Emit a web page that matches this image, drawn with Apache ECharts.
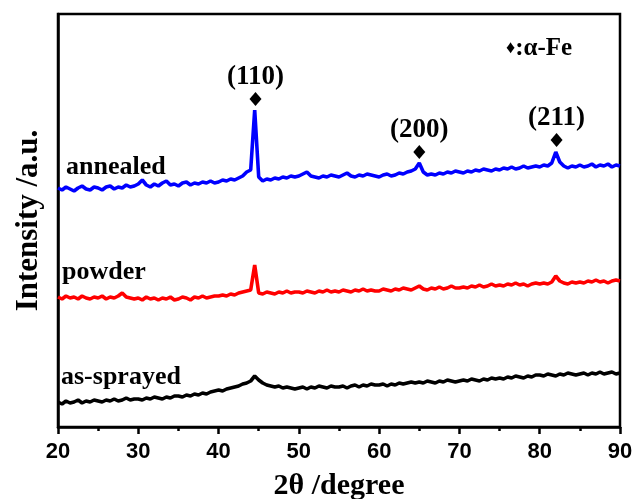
<!DOCTYPE html>
<html>
<head>
<meta charset="utf-8">
<script src="https://cdn.jsdelivr.net/npm/echarts@6/dist/echarts.min.js"></script>
<style>
  html, body { margin: 0; padding: 0; background: #fff; }
  #chart { width: 633px; height: 499px; }
</style>
</head>
<body>
<div id="chart"></div>
<script>
// 2theta (degree)
var twoTheta = [
  20, 20.5, 21, 21.5, 22, 22.5, 23, 23.5, 24, 24.5,
  25, 25.5, 26, 26.5, 27, 27.5, 28, 28.5, 29, 29.5,
  30, 30.5, 31, 31.5, 32, 32.5, 33, 33.5, 34, 34.5,
  35, 35.5, 36, 36.5, 37, 37.5, 38, 38.5, 39, 39.5,
  40, 40.5, 41, 41.5, 42, 42.5, 43, 43.5, 44, 44.5,
  45, 45.5, 46, 46.5, 47, 47.5, 48, 48.5, 49, 49.5,
  50, 50.5, 51, 51.5, 52, 52.5, 53, 53.5, 54, 54.5,
  55, 55.5, 56, 56.5, 57, 57.5, 58, 58.5, 59, 59.5,
  60, 60.5, 61, 61.5, 62, 62.5, 63, 63.5, 64, 64.5,
  65, 65.5, 66, 66.5, 67, 67.5, 68, 68.5, 69, 69.5,
  70, 70.5, 71, 71.5, 72, 72.5, 73, 73.5, 74, 74.5,
  75, 75.5, 76, 76.5, 77, 77.5, 78, 78.5, 79, 79.5,
  80, 80.5, 81, 81.5, 82, 82.5, 83, 83.5, 84, 84.5,
  85, 85.5, 86, 86.5, 87, 87.5, 88, 88.5, 89, 89.5,
  90
];

// intensity, arbitrary units (curves already offset)
var annealed = [
  239, 237, 240, 238, 236, 239, 241, 238, 237, 240,
  239, 237, 240, 241, 238, 240, 239, 242, 240, 241,
  243, 247, 242, 240, 243, 241, 244, 246, 242, 243,
  241, 244, 245, 242, 244, 243, 245, 244, 246, 244,
  245, 247, 246, 248, 247, 249, 251, 255, 257, 317,
  250, 246, 248, 247, 249, 248, 250, 249, 251, 250,
  251, 253, 255, 251, 250, 249, 251, 250, 252, 251,
  250, 252, 254, 251, 250, 252, 251, 253, 252, 251,
  250, 252, 253, 251, 252, 254, 253, 255, 256, 258,
  264, 255, 252, 253, 252, 254, 253, 255, 254, 256,
  255, 254, 256, 255, 257, 256, 258, 257, 256, 258,
  257, 259, 258, 260, 258, 259, 261, 259, 260, 261,
  260, 262, 261, 264, 275, 265, 261, 259, 261, 260,
  262, 260, 261, 263, 260, 262, 261, 263, 260, 262,
  261
];

var powder = [
  130, 128, 131, 129, 130, 128, 131, 129, 128, 130,
  129, 131, 128, 130, 129, 131, 134, 130, 129, 128,
  129, 127, 130, 128, 129, 127, 129, 128, 130, 127,
  128, 130, 129, 127, 130, 129, 131, 129, 130, 131,
  131, 132, 131, 133, 132, 134, 135, 136, 137, 162,
  134, 133, 135, 134, 133, 135, 134, 136, 134, 135,
  135, 134, 136, 135, 134, 136, 135, 137, 135, 136,
  135, 137, 136, 135, 137, 136, 138, 136, 137, 136,
  136, 138, 137, 136, 138, 137, 139, 138, 137, 139,
  141, 138, 137, 139, 138, 140, 138, 139, 141, 139,
  139, 140, 139, 141, 140, 142, 140, 141, 143, 141,
  142, 141, 143, 142, 144, 142, 143, 141, 143, 144,
  143, 144, 143, 145, 151, 146, 144, 143, 145, 144,
  145, 144, 146, 145, 147, 145, 146, 144, 146, 147,
  146
];

var asSprayed = [
  25, 23, 26, 24, 25, 27, 24, 26, 25, 27,
  26, 25, 27, 26, 28, 26, 27, 29, 27, 28,
  28, 27, 29, 28, 30, 29, 28, 30, 29, 31,
  31, 30, 32, 31, 33, 32, 34, 33, 35, 36,
  37, 36, 38, 39, 40, 41, 43, 44, 46, 51,
  47, 44, 42, 41, 40, 41, 39, 40, 39, 38,
  39, 40, 38, 40, 39, 41, 40, 39, 41, 40,
  40, 41, 39, 41, 42, 40, 42, 41, 43, 42,
  42, 43, 41, 43, 42, 44, 43, 44, 45, 44,
  45, 44, 46, 45, 44, 46, 45, 47, 46, 45,
  46, 47, 46, 48, 47, 46, 48, 47, 49, 48,
  49, 48, 50, 49, 51, 50, 49, 51, 50, 52,
  52, 51, 53, 52, 51, 53, 52, 54, 53, 52,
  53, 54, 52, 54, 53, 55, 53, 54, 55, 53,
  54
];

// alpha-Fe reflections
var peakX = [44.6, 65.0, 82.1];
var peakY = [328, 275, 287];
var peakNames = ['(110)', '(200)', '(211)'];

var xTicks = [20, 30, 40, 50, 60, 70, 80, 90];

function pairs(ys) {
  var out = [];
  for (var i = 0; i < twoTheta.length; i++) out.push([twoTheta[i], ys[i]]);
  return out;
}

var serif = '"Liberation Serif", "Times New Roman", serif';
var sans = '"Liberation Sans", Arial, sans-serif';

var chart = echarts.init(document.getElementById('chart'));

var peaks = [];
for (var i = 0; i < peakX.length; i++) {
  peaks.push({ value: [peakX[i], peakY[i]], name: peakNames[i] });
}

function lineSeries(name, ys, color) {
  return {
    name: name,
    type: 'line',
    data: pairs(ys),
    showSymbol: false,
    silent: true,
    lineStyle: { color: color, width: 3.6 },
    animation: false
  };
}

chart.setOption({
  backgroundColor: '#fff',
  animation: false,
  grid: {
    left: 58, right: 13, top: 14, bottom: 72,
    outerBoundsMode: 'none',
    containLabel: false,
    show: true, borderColor: '#000', borderWidth: 2.5
  },
  xAxis: {
    type: 'value',
    min: xTicks[0],
    max: xTicks[xTicks.length - 1],
    interval: 10,
    name: '2θ /degree',
    nameLocation: 'middle',
    nameGap: 44,
    nameTextStyle: { fontFamily: serif, fontWeight: 'bold', fontSize: 30, color: '#000' },
    axisLine: { lineStyle: { color: '#000', width: 2.5 } },
    axisTick: { inside: false, length: 7, lineStyle: { color: '#000', width: 2.5 } },
    minorTick: { show: true, splitNumber: 2, length: 4, lineStyle: { color: '#000', width: 2.5 } },
    axisLabel: { fontFamily: sans, fontWeight: 'bold', fontSize: 22, color: '#000', margin: 14 },
    splitLine: { show: false }
  },
  yAxis: {
    type: 'value',
    min: 0,
    max: 413,
    name: 'Intensity /a.u.',
    nameLocation: 'middle',
    nameRotate: 90,
    nameGap: 14,
    nameTextStyle: { fontFamily: serif, fontWeight: 'bold', fontSize: 31, color: '#000' },
    axisLine: { lineStyle: { color: '#000', width: 2.5 } },
    axisTick: { show: false },
    axisLabel: { show: false },
    splitLine: { show: false }
  },
  series: [
    lineSeries('as-sprayed', asSprayed, '#000000'),
    lineSeries('powder', powder, '#ff0000'),
    lineSeries('annealed', annealed, '#0000ff'),
    {
      name: 'alpha-Fe',
      type: 'scatter',
      symbol: 'diamond',
      symbolSize: [12, 14],
      itemStyle: { color: '#000', opacity: 1 },
      data: peaks,
      label: {
        show: true,
        position: 'top',
        distance: 1,
        formatter: '{b}',
        fontFamily: serif,
        fontWeight: 'bold',
        fontSize: 27,
        color: '#000'
      }
    }
  ],
  graphic: [
    { type: 'text', left: 66, top: 154, style: { text: 'annealed', font: 'bold 26px ' + serif, fill: '#000' } },
    { type: 'text', left: 62, top: 259, style: { text: 'powder', font: 'bold 26px ' + serif, fill: '#000' } },
    { type: 'text', left: 61, top: 364, style: { text: 'as-sprayed', font: 'bold 26px ' + serif, fill: '#000' } },
    {
      type: 'text', left: 506, top: 36,
      style: {
        text: '{d|♦}{t|:α-Fe}',
        rich: {
          d: { font: 'bold 18px ' + serif, fill: '#000' },
          t: { font: 'bold 25px ' + serif, fill: '#000' }
        }
      }
    }
  ]
});
</script>
</body>
</html>
